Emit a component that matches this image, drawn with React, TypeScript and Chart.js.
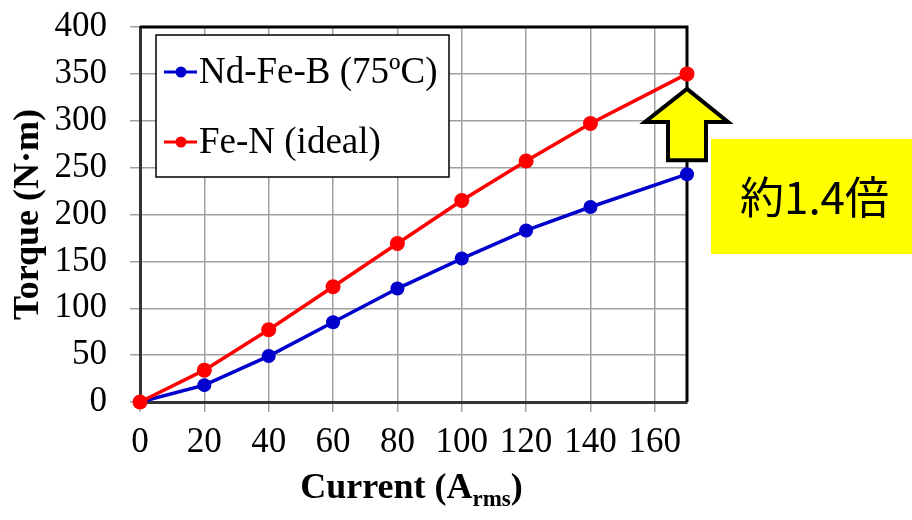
import React, { useEffect, useRef } from 'react';
import { Chart, registerables } from 'chart.js';

Chart.register(...registerables);

const currents = [0, 20, 40, 60, 80, 100, 120, 140, 170];
const ndFeB = [0, 18, 49, 85, 121, 153, 183, 208, 243];
const feN = [0, 34, 77, 123, 169, 215, 257, 297, 350];
const seriesLabels = ['Nd-Fe-B (75ºC)', 'Fe-N (ideal)'];
const seriesColors = ['#0000CC', '#FF0000'];
const yTitle = 'Torque (N·m)';
const xTitleMain = 'Current (A';
const xTitleSub = 'rms';
const xTitleEnd = ')';
const annotationText = '約1.4倍';

const SERIF = "'Liberation Serif', 'Times New Roman', serif";

const framePlugin = {
  id: 'frame',
  beforeDatasetsDraw(chart: any) {
    const { ctx, chartArea: a } = chart;
    ctx.save();
    ctx.strokeStyle = '#000';
    ctx.lineWidth = 3;
    ctx.beginPath();
    ctx.moveTo(a.left, a.top);
    ctx.lineTo(a.right, a.top);
    ctx.lineTo(a.right, a.bottom);
    ctx.stroke();
    ctx.restore();
  },
};

const overlayPlugin = {
  id: 'overlay',
  afterDraw(chart: any) {
    const { ctx, chartArea: a } = chart;
    ctx.save();
    // Legend box
    const lx = a.left + 16;
    const ly = a.top + 8;
    const lw = 293;
    const lh = 142;
    ctx.fillStyle = '#fff';
    ctx.fillRect(lx, ly, lw, lh);
    ctx.strokeStyle = '#000';
    ctx.lineWidth = 1.5;
    ctx.strokeRect(lx, ly, lw, lh);
    const entries = [
      { idx: 0, y: ly + 37, base: ly + 48 },
      { idx: 1, y: ly + 107, base: ly + 118 },
    ];
    entries.forEach((e) => {
      const ds = chart.data.datasets[e.idx];
      ctx.strokeStyle = ds.borderColor;
      ctx.lineWidth = 3;
      ctx.beginPath();
      ctx.moveTo(lx + 8, e.y);
      ctx.lineTo(lx + 41, e.y);
      ctx.stroke();
      ctx.fillStyle = ds.borderColor;
      ctx.beginPath();
      ctx.arc(lx + 25, e.y, 5.5, 0, Math.PI * 2);
      ctx.fill();
      ctx.fillStyle = '#000';
      ctx.font = `37px ${SERIF}`;
      ctx.textAlign = 'left';
      ctx.textBaseline = 'alphabetic';
      ctx.fillText(ds.label, lx + 43, e.base);
    });

    // Arrow between last points
    const mB = chart.getDatasetMeta(0);
    const mR = chart.getDatasetMeta(1);
    const pr = mR.data[mR.data.length - 1];
    const pb = mB.data[mB.data.length - 1];
    const tx = pr.x;
    const tipY = pr.y + 15;
    const headY = pr.y + 48;
    const botY = pb.y - 14;
    ctx.beginPath();
    ctx.moveTo(tx, tipY);
    ctx.lineTo(tx + 41, headY);
    ctx.lineTo(tx + 19, headY);
    ctx.lineTo(tx + 19, botY);
    ctx.lineTo(tx - 19, botY);
    ctx.lineTo(tx - 19, headY);
    ctx.lineTo(tx - 42, headY);
    ctx.closePath();
    ctx.fillStyle = '#FFFF00';
    ctx.fill();
    ctx.strokeStyle = '#000';
    ctx.lineWidth = 4;
    ctx.lineJoin = 'miter';
    ctx.stroke();

    // Yellow label box
    const bx = a.right + 24;
    const by = a.top + 112;
    const bw = chart.width - bx;
    const bh = 115;
    ctx.fillStyle = '#FFFF00';
    ctx.fillRect(bx, by, bw, bh);
    ctx.fillStyle = '#000';
    ctx.font = `44px 'Noto Sans CJK JP', sans-serif`;
    ctx.textAlign = 'center';
    ctx.textBaseline = 'middle';
    ctx.fillText(annotationText, bx + bw / 2 + 3, by + bh / 2 + 1);

    // X axis title with subscript
    const fMain = `bold 36px ${SERIF}`;
    const fSub = `bold 23px ${SERIF}`;
    ctx.textAlign = 'left';
    ctx.textBaseline = 'alphabetic';
    ctx.font = fMain;
    const w1 = ctx.measureText(xTitleMain).width;
    const w3 = ctx.measureText(xTitleEnd).width;
    ctx.font = fSub;
    const w2 = ctx.measureText(xTitleSub).width;
    const total = w1 + w2 + w3;
    let x = (a.left + a.right) / 2 - total / 2 - 2;
    const baseY = a.bottom + 96;
    ctx.font = fMain;
    ctx.fillText(xTitleMain, x, baseY);
    x += w1;
    ctx.font = fSub;
    ctx.fillText(xTitleSub, x, baseY + 8);
    x += w2;
    ctx.font = fMain;
    ctx.fillText(xTitleEnd, x, baseY);
    ctx.restore();
  },
};

export default function App() {
  const ref = useRef<HTMLCanvasElement>(null);
  useEffect(() => {
    if (!ref.current) return;
    const gridCommon = {
      color: '#a0a0a0',
      lineWidth: 1.5,
      tickLength: 10,
      drawTicks: true,
    };
    const chart = new Chart(ref.current, {
      type: 'line',
      data: {
        datasets: [
          {
            label: seriesLabels[0],
            data: currents.map((c, i) => ({ x: c, y: ndFeB[i] })),
            borderColor: seriesColors[0],
            backgroundColor: seriesColors[0],
            borderWidth: 3.5,
            pointRadius: 7,
            pointBorderWidth: 0,
            tension: 0,
            clip: false as any,
            order: 1,
          },
          {
            label: seriesLabels[1],
            data: currents.map((c, i) => ({ x: c, y: feN[i] })),
            borderColor: seriesColors[1],
            backgroundColor: seriesColors[1],
            borderWidth: 3.5,
            pointRadius: 7.5,
            pointBorderWidth: 0,
            tension: 0,
            clip: false as any,
            order: 0,
          },
        ],
      },
      options: {
        animation: false,
        responsive: false,
        maintainAspectRatio: false,
        devicePixelRatio: 1,
        layout: { padding: { left: 0, top: 27, right: 225, bottom: 0 } },
        plugins: {
          legend: { display: false },
          tooltip: { enabled: false },
        },
        scales: {
          x: {
            type: 'linear',
            min: 0,
            max: 170,
            grid: gridCommon,
            border: { color: '#333', width: 3 },
            ticks: {
              stepSize: 20,
              includeBounds: false,
              autoSkip: false,
              color: '#000',
              padding: 10,
              maxRotation: 0,
              font: { family: SERIF, size: 35 },
            },
            afterFit(scale: any) {
              scale.height = 118;
              scale.paddingLeft = 0;
              scale.paddingRight = 0;
            },
          },
          y: {
            type: 'linear',
            min: 0,
            max: 400,
            grid: gridCommon,
            border: { color: '#333', width: 3 },
            ticks: {
              stepSize: 50,
              autoSkip: false,
              color: '#000',
              padding: 23,
              font: { family: SERIF, size: 35 },
            },
            title: {
              display: true,
              text: yTitle,
              color: '#000',
              padding: { top: 7, bottom: 0 },
              font: { family: SERIF, size: 36, weight: 'bold' },
            },
            afterFit(scale: any) {
              scale.width = 140;
              scale.paddingTop = 0;
              scale.paddingBottom = 0;
            },
          },
        },
      },
      plugins: [framePlugin, overlayPlugin],
    } as any);
    return () => chart.destroy();
  }, []);
  return (
    <div style={{ position: 'fixed', left: 0, top: 0, width: 912, height: 520, background: '#fff' }}>
      <canvas ref={ref} width={912} height={520} style={{ display: 'block' }} />
    </div>
  );
}
